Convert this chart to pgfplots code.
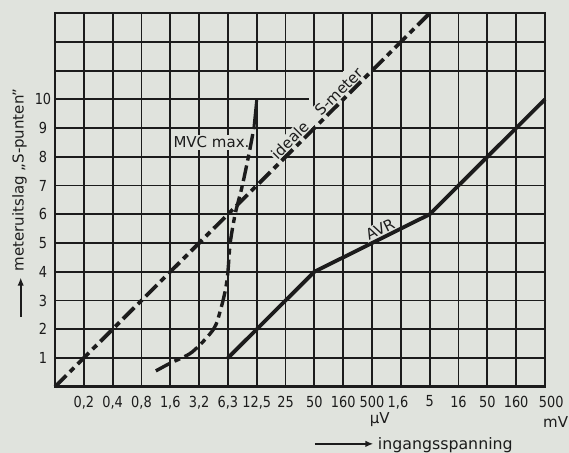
\documentclass[border=0pt]{standalone}
\usepackage{fontspec}
\setmainfont{DejaVu Sans}
\newfontfamily\tickfont{DejaVu Sans}[FakeStretch=0.85]
\usepackage{pgfplots}
\pgfplotsset{compat=1.18}
\usetikzlibrary{arrows.meta}
\definecolor{paper}{RGB}{224,227,221}
\definecolor{ink}{RGB}{28,28,28}
\newcommand\lbl{\fontsize{7.5}{9}\selectfont}
\newcommand\tck{\tickfont\fontsize{7.6}{9}\selectfont}
\begin{document}
\begin{tikzpicture}
\fill[paper] (-27.5pt,-33.15pt) rectangle (257pt,193.35pt);
\useasboundingbox (-27.5pt,-33.15pt) rectangle (257pt,193.35pt);
\begin{axis}[
  at={(0,0)}, anchor=south west,
  x=14.41pt, y=14.365pt,
  xmin=0, xmax=17, ymin=0, ymax=13,
  clip=false,
  axis line style={ink, line width=1.3pt},
  major tick length=0pt, minor tick length=0pt,
  xtick={1,2,3,4,5,6,7,8,9,10,11,11.9,13,14,15,16},
  xticklabels={{0,2},{0,4},{0,8},{1,6},{3,2},{6,3},{12,5},25,50,160,500,{1,6},5,16,50,160},
  ytick={1,2,3,4,5,6,7,8,9,10},
  yticklabels={1,2,3,4,5,6,7,8,9,10},
  minor xtick={1,2,3,4,5,6,8,9,11,12,13,14,15,16},
  minor ytick={1,2,3,4,5,6,7,8,9,12},
  xminorgrids=true, yminorgrids=true,
  minor grid style={ink, line width=0.9pt},
  tick label style={font=\tck, text=ink},
  xticklabel style={yshift=-1pt},
  yticklabel style={anchor=center, xshift=-6pt},
]
% partial grid lines of the original sheet
\draw[ink, line width=0.9pt] (axis cs:7,0) -- (axis cs:7,10) (axis cs:7,11) -- (axis cs:7,13);
\draw[ink, line width=0.9pt] (axis cs:10,0) -- (axis cs:10,10) (axis cs:10,11) -- (axis cs:10,13);
\draw[ink, line width=0.9pt] (axis cs:0,10) -- (axis cs:8.8,10);
\draw[ink, line width=0.9pt] (axis cs:0,11) -- (axis cs:10,11) (axis cs:11,11) -- (axis cs:17,11);
% curve labels
\node[fill=paper, inner sep=1pt, font=\lbl, text=ink] at (axis cs:5.43,8.5) {MVC max.};
\node[fill=paper, inner sep=0.6pt, rotate=44.9, font=\lbl, text=ink] at (axis cs:9.08,9.52) {ideale\hspace{8pt}S-meter};
\node[fill=paper, inner sep=0.8pt, rotate=26.5, font=\lbl, text=ink] at (axis cs:11.28,5.48) {AVR};
% ideale S-meter
\addplot[ink, line width=1.9pt, dash pattern=on 8pt off 2.5pt on 3pt off 2.5pt] coordinates {(0,0) (13,13)};
% AVR
\addplot[ink, line width=1.9pt] coordinates {(6,1) (9,4) (13,6) (17,10)};
% MVC max
\addplot[ink, line width=1.7pt, smooth, dash pattern=on 8pt off 2.5pt on 3pt off 2.5pt] coordinates {
 (3.5,0.55) (4.0,0.82) (4.75,1.2) (5.5,2.0) (5.75,2.7) (5.92,3.4) (6.0,4.0)
 (6.08,5.0) (6.25,6.0) (6.5,7.0) (6.75,8.2) (6.9,9.0)};
\addplot[ink, line width=1.5pt] coordinates {(6.9,9.0) (7.0,10.0)};
% last x tick label (set slightly right of the frame, as in the original)
\node[anchor=north, font=\tck, text=ink, inner sep=0.333em, yshift=-1pt] at (axis cs:17.22,0) {500};
% axis texts
\node[font=\lbl, text=ink] at (axis cs:11.27,-1.16) {µV};
\node[font=\lbl, text=ink] at (axis cs:17.37,-1.23) {mV};
\draw[ink, line width=1.1pt, -{Latex[length=4pt,width=3.2pt]}] (axis cs:9.02,-1.99) -- (axis cs:11.05,-1.99);
\node[anchor=west, font=\fontsize{7.9}{9}\selectfont, text=ink, inner sep=1pt] at (axis cs:11.12,-2.03) {ingangsspanning};
\draw[ink, line width=1.1pt, -{Latex[length=4pt,width=3.2pt]}] (axis cs:-1.19,2.43) -- (axis cs:-1.19,3.8);
\node[rotate=90, anchor=west, font=\lbl, text=ink, inner sep=1pt] at (axis cs:-1.23,3.93) {meteruitslag „S-punten”};
\end{axis}
\end{tikzpicture}
\end{document}
